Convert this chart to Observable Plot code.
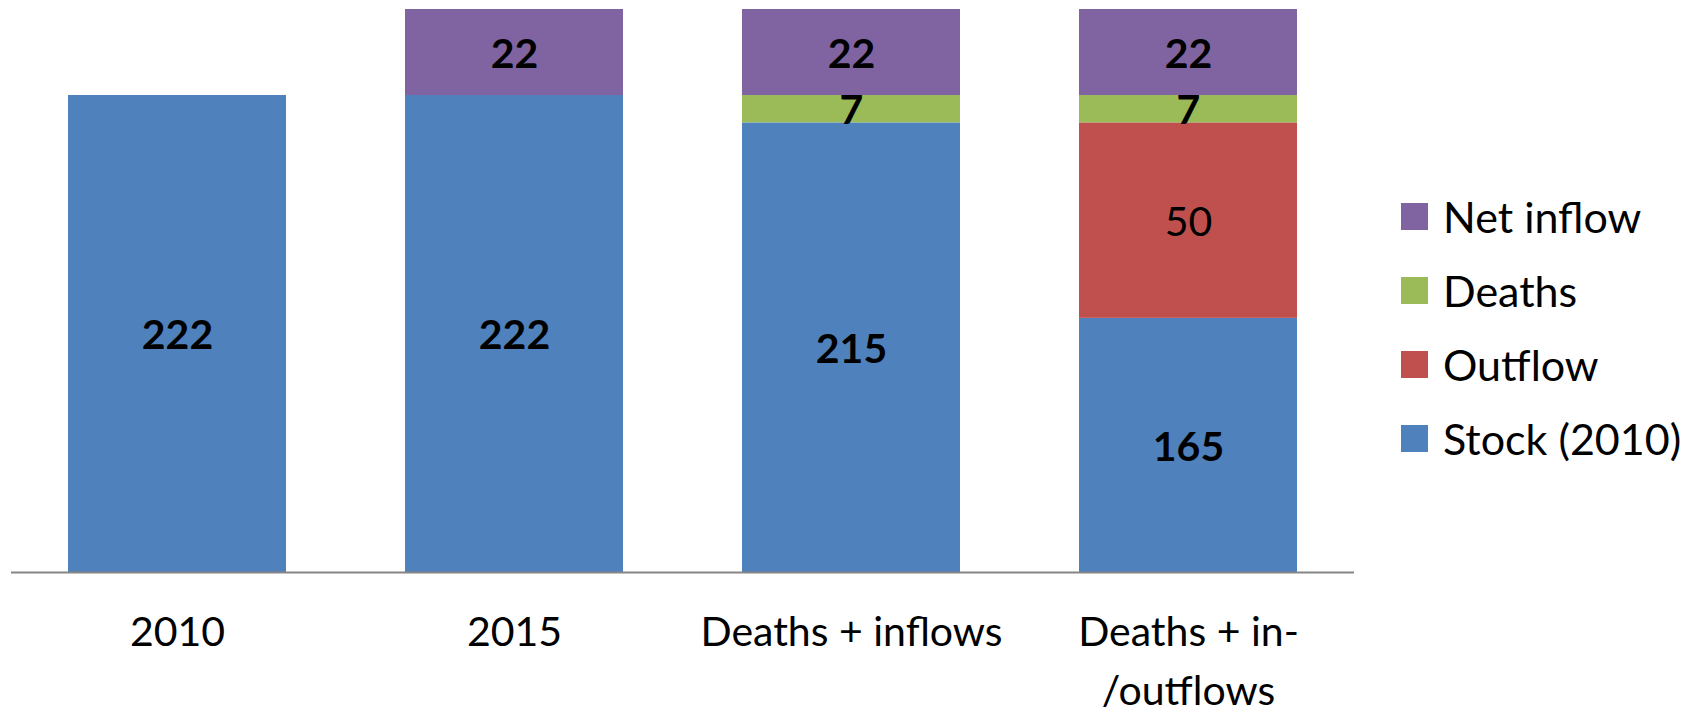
<!DOCTYPE html>
<html>
<head>
<meta charset="utf-8">
<script src="https://cdn.jsdelivr.net/npm/d3@7"></script>
<script src="https://cdn.jsdelivr.net/npm/@observablehq/plot@0.6"></script>
<style>
  body { margin: 0; background: #fff; font-family: Lato, "Open Sans", sans-serif; }
  #wrap { position: relative; width: 1698px; height: 714px; }
  #legend { position: absolute; left: 1401px; top: 179px; }
  .item { display: flex; align-items: center; height: 74px; font-size: 43px; color: #000; }
  .sw { width: 27px; height: 27px; margin-right: 15px; }
</style>
</head>
<body>
<div id="wrap"></div>
<script>
const categories = ["2010", "2015", "Deaths + inflows", "Deaths + in-\n/outflows"];
const seriesNames = ["Stock (2010)", "Outflow", "Deaths", "Net inflow"]; // bottom to top
const colors = ["#4F81BD", "#C0504D", "#9BBB59", "#8064A2"];
const stockValues = [222, 222, 215, 165];
const outflowValues = [0, 0, 0, 50];
const deathsValues = [0, 0, 7, 7];
const netInflowValues = [0, 22, 22, 22];
const yDomain = [100, 244];

const valuesBySeries = [stockValues, outflowValues, deathsValues, netInflowValues];
const rows = [];
categories.forEach((c, i) => {
  let base = 0;
  seriesNames.forEach((s, k) => {
    const v = valuesBySeries[k][i];
    if (v > 0) {
      const y1 = base, y2 = base + v;
      rows.push({category: c, series: s, value: v, y1, y2, mid: (Math.max(y1, yDomain[0]) + y2) / 2});
      base = y2;
    }
  });
});

const plot = Plot.plot({
  width: 1698,
  height: 714,
  marginLeft: 11,
  marginRight: 344,
  marginTop: 9,
  marginBottom: 142,
  style: {fontFamily: "Lato, 'Open Sans', sans-serif", background: "#fff"},
  x: {domain: categories, paddingInner: 0.353, paddingOuter: 0.169},
  y: {domain: yDomain, axis: null},
  color: {domain: seriesNames, range: colors},
  marks: [
    Plot.rectY(rows, {x: "category", y1: "y1", y2: "y2", fill: "series", clip: true}),
    Plot.ruleY([yDomain[0]], {stroke: "#868686", strokeWidth: 2}),
    Plot.axisX({tickSize: 0, tickPadding: 31, fontSize: 41, lineHeight: 1.45, fill: "#000", label: null}),
    Plot.text(rows, {
      filter: d => d.series !== "Outflow",
      x: "category", y: "mid", dy: 2, text: d => String(d.value), fontSize: 41, fontWeight: "bold", fill: "#000"
    }),
    Plot.text(rows, {
      filter: d => d.series === "Outflow",
      x: "category", y: "mid", dy: 2, text: d => String(d.value), fontSize: 41, fill: "#000"
    })
  ]
});
document.getElementById("wrap").appendChild(plot);

const legend = document.createElement("div");
legend.id = "legend";
seriesNames.slice().reverse().forEach((s) => {
  const k = seriesNames.indexOf(s);
  const item = document.createElement("div");
  item.className = "item";
  const sw = document.createElement("div");
  sw.className = "sw";
  sw.style.background = colors[k];
  const t = document.createElement("span");
  t.textContent = s;
  item.appendChild(sw);
  item.appendChild(t);
  legend.appendChild(item);
});
document.getElementById("wrap").appendChild(legend);
</script>
</body>
</html>
